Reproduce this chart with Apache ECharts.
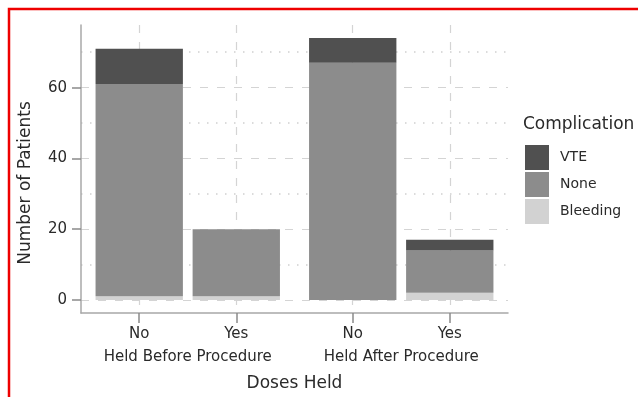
<!DOCTYPE html>
<html>
<head>
<meta charset="utf-8">
<script src="https://cdn.jsdelivr.net/npm/echarts@6/dist/echarts.min.js"></script>
<style>
  html, body { margin: 0; padding: 0; background: #fff; }
  #chart { width: 638px; height: 397px; }
</style>
</head>
<body>
<div id="chart"></div>
<script>
const groups = ['Held Before Procedure', 'Held After Procedure']
const levels = ['No', 'Yes']
// one value per bar: before/no, before/yes, after/no, after/yes
const vte = [10, 0, 7, 3]
const none = [60, 19, 67, 12]
const bleeding = [1, 1, 0, 2]
const yTicks = [0, 20, 40, 60]

const FONT = 'DejaVu Sans'
const TEXT = '#2a2a2a'
const colors = { VTE: '#505050', None: '#8c8c8c', Bleeding: '#d2d2d2' }
const values = { VTE: vte, None: none, Bleeding: bleeding }

// bars sit at 1, 2 | 3.2, 4.2 (small gap between the two groups)
const groupGap = 0.2
const xPos = []
const xText = {}
const groupCenter = {}
groups.forEach((g, gi) => {
  const xs = levels.map((lv, li) => +(gi * (levels.length + groupGap) + li + 1).toFixed(2))
  xs.forEach((x, li) => {
    xPos.push(x)
    xText[x] = levels[li]
  })
  const c = +((xs[0] + xs[xs.length - 1]) / 2).toFixed(2)
  groupCenter[c] = g
})

const totals = vte.map((v, i) => v + none[i] + bleeding[i])
const maxTotal = Math.max(...totals)
const pad = maxTotal * 0.05
const yMin = -pad
const yMax = maxTotal + pad
const minorTicks = yTicks.map(t => t + (yTicks[1] - yTicks[0]) / 2)

const xMin = xPos[0] - 0.6
const xMax = xPos[xPos.length - 1] + 0.6

const chart = echarts.init(document.getElementById('chart'))

// value first so the stack is computed on y, not on x
const series = ['Bleeding', 'None', 'VTE'].map(name => ({
  name,
  type: 'bar',
  stack: 'total',
  barWidth: '90%',
  encode: { x: 1, y: 0 },
  itemStyle: { color: colors[name] },
  data: values[name].map((v, i) => [v, xPos[i]]),
}))

chart.setOption({
  animation: false,
  textStyle: { fontFamily: FONT },
  title: {
    text: 'Complication',
    left: 523,
    top: 116,
    padding: 0,
    textStyle: { fontFamily: FONT, fontSize: 17, fontWeight: 'normal', color: TEXT },
  },
  legend: {
    orient: 'vertical',
    left: 525,
    top: 145,
    padding: 0,
    itemWidth: 24,
    itemHeight: 25,
    itemGap: 2,
    icon: 'rect',
    data: ['VTE', 'None', 'Bleeding'],
    textStyle: { fontFamily: FONT, fontSize: 14, color: TEXT, padding: [0, 0, 0, 6] },
  },
  grid: { left: 81, right: 130, top: 25, bottom: 80 },
  xAxis: [
    {
      type: 'value',
      min: xMin,
      max: xMax,
      axisLine: { onZero: false, lineStyle: { color: '#a8a8a8', width: 1.5 } },
      axisTick: { customValues: xPos, length: 10, lineStyle: { color: '#8a8a8a', width: 1.5 } },
      axisLabel: {
        customValues: xPos,
        formatter: v => xText[+v.toFixed(2)] || '',
        margin: 14,
        fontSize: 15,
        color: TEXT,
        fontFamily: FONT,
      },
      splitLine: { show: true, lineStyle: { color: '#d4d4d4', type: [8, 9], width: 1.2 } },
      name: 'Doses Held',
      nameLocation: 'middle',
      nameGap: 62,
      nameTextStyle: { fontSize: 17, color: TEXT, fontFamily: FONT },
    },
    {
      type: 'value',
      min: xMin,
      max: xMax,
      position: 'bottom',
      axisLine: { show: false },
      axisTick: { show: false, customValues: Object.keys(groupCenter).map(Number) },
      axisLabel: {
        customValues: Object.keys(groupCenter).map(Number),
        formatter: v => groupCenter[+v.toFixed(2)] || '',
        margin: 37,
        fontSize: 15,
        color: TEXT,
        fontFamily: FONT,
      },
      splitLine: { show: false },
    },
  ],
  yAxis: [
    {
      type: 'value',
      min: yMin,
      max: yMax,
      axisLine: { show: true, onZero: false, lineStyle: { color: '#a8a8a8', width: 1.5 } },
      axisTick: { show: true, customValues: yTicks, length: 9, lineStyle: { color: '#8a8a8a', width: 1.5 } },
      axisLabel: { customValues: yTicks, margin: 14, fontSize: 15, color: TEXT, fontFamily: FONT },
      splitLine: { show: true, lineStyle: { color: '#d4d4d4', type: [8, 9], width: 1.2 } },
    },
    {
      type: 'value',
      min: yMin,
      max: yMax,
      position: 'left',
      axisLine: { show: false },
      axisTick: { show: false, customValues: minorTicks },
      axisLabel: { show: false, customValues: minorTicks },
      splitLine: { show: true, lineStyle: { color: '#cfcfcf', type: [1.5, 7.5], width: 1.5 } },
    },
  ],
  graphic: [
    {
      type: 'text',
      x: 26,
      y: 183,
      rotation: Math.PI / 2,
      style: {
        text: 'Number of Patients',
        fontFamily: FONT,
        fontSize: 17,
        fill: TEXT,
        align: 'center',
        verticalAlign: 'middle',
      },
    },
    {
      type: 'rect',
      shape: { x: 9, y: 9, width: 640, height: 400 },
      style: { fill: 'none', stroke: '#ee0000', lineWidth: 2.5 },
      silent: true,
    },
  ],
  series,
})

window.addEventListener('resize', () => chart.resize())
</script>
</body>
</html>
